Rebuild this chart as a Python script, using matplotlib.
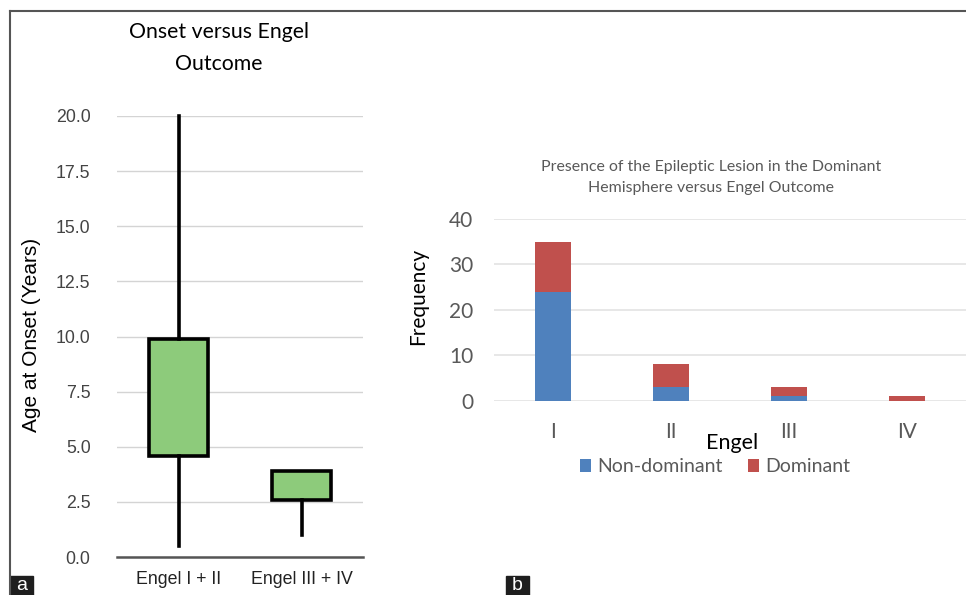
import numpy as np
import matplotlib
matplotlib.use("Agg")
import matplotlib.pyplot as plt
from matplotlib.patches import Rectangle
from matplotlib.lines import Line2D

# panel a: box plot of age at onset
groups = ['Engel I + II', 'Engel III + IV']
whis_lo = [0.5, 1.0]
q1 = [4.6, 2.6]
q3 = [9.9, 3.9]
whis_hi = [20.0, 3.9]
y_ticks_a = [0.0, 2.5, 5.0, 7.5, 10.0, 12.5, 15.0, 17.5, 20.0]

# panel b: stacked bars
engel = ['I', 'II', 'III', 'IV']
non_dominant = [24, 3, 1, 0]
dominant = [11, 5, 2, 1]
y_ticks_b = [0, 10, 20, 30, 40]

W, H = 966, 595
fig = plt.figure(figsize=(W / 100, H / 100), dpi=100)

def ax_at(x0, y0, x1, y1):
    # pixel box -> figure fraction
    return fig.add_axes([x0 / W, 1 - y1 / H, (x1 - x0) / W, (y1 - y0) / H])

calibri = ['Lato', 'DejaVu Sans']
arial = ['Liberation Sans', 'DejaVu Sans']

# ---- panel a ----
ax = ax_at(117, 116, 363, 557)
stats = []
for i in range(len(groups)):
    stats.append(dict(whislo=whis_lo[i], q1=q1[i], med=q1[i], q3=q3[i],
                      whishi=whis_hi[i], fliers=[], label=groups[i]))
ax.bxp(stats, positions=[1, 2], widths=0.48, showcaps=False, showfliers=False,
       patch_artist=True,
       boxprops=dict(facecolor='#8dcb7b', edgecolor='black', linewidth=2.6),
       whiskerprops=dict(color='black', linewidth=2.6),
       medianprops=dict(linewidth=0))
for art in ax.lines + ax.patches:
    art.set_clip_on(False)
ax.set_xlim(0.5, 2.5)
ax.set_ylim(0, 20)
ax.set_yticks(y_ticks_a)
ax.set_yticklabels(['%.1f' % v for v in y_ticks_a], fontsize=12.8, color='#444444',
                   family=arial)
ax.set_xticks([1, 2])
ax.set_xticklabels(groups, fontsize=12.8, color='#222222', family=arial)
ax.tick_params(length=0, pad=19)
ax.tick_params(axis='x', pad=10)
for s in ['top', 'right', 'left']:
    ax.spines[s].set_visible(False)
ax.spines['bottom'].set_color('#555555')
ax.spines['bottom'].set_linewidth(1.8)
ax.grid(axis='y', color='#d4d4d4', linewidth=1)
ax.set_axisbelow(True)
fig.text(32 / W, 1 - 335 / H, 'Age at Onset (Years)', rotation=90, ha='center',
         va='center', fontsize=15, family=arial)
fig.text(219 / W, 1 - 32 / H, 'Onset versus Engel', ha='center', va='center',
         fontsize=15.3, family=calibri)
fig.text(219 / W, 1 - 64 / H, 'Outcome', ha='center', va='center',
         fontsize=15.3, family=calibri)

# ---- panel b ----
bx = ax_at(494, 219, 966, 400.7)
x = np.arange(len(engel))
bx.bar(x, non_dominant, width=0.31, color='#4f81bd', label='Non-dominant', zorder=3)
bx.bar(x, dominant, width=0.31, bottom=non_dominant, color='#c0504d',
       label='Dominant', zorder=3)
bx.set_xlim(-0.5, 3.5)
bx.set_ylim(0, 40)
bx.set_yticks(y_ticks_b)
bx.set_yticklabels([str(v) for v in y_ticks_b], fontsize=15, color='#595959',
                   family=calibri)
bx.set_xticks(x)
bx.set_xticklabels(engel, fontsize=15, color='#595959', family=calibri)
bx.tick_params(length=0)
bx.tick_params(axis='y', pad=15)
bx.tick_params(axis='x', pad=15)
for s in bx.spines.values():
    s.set_visible(False)
bx.grid(axis='y', color='#e3e3e3', linewidth=1.2)
bx.set_axisbelow(True)
fig.text(418 / W, 1 - 296 / H, 'Frequency', rotation=90, ha='center', va='center',
         fontsize=15, family=calibri)
fig.text(732 / W, 1 - 443 / H, 'Engel', ha='center', va='center',
         fontsize=15.5, family=calibri)
fig.text(711 / W, 1 - 167 / H,
         'Presence of the Epileptic Lesion in the Dominant', ha='center',
         va='center', fontsize=11.4, color='#595959', family=calibri)
fig.text(711 / W, 1 - 188 / H, 'Hemisphere versus Engel Outcome', ha='center',
         va='center', fontsize=11.4, color='#595959', family=calibri)
leg = bx.legend(loc='center', bbox_to_anchor=(715 / W, 1 - 467 / H),
                bbox_transform=fig.transFigure, ncol=2, frameon=False,
                handlelength=0.6, handleheight=0.6,
                handletextpad=0.3, columnspacing=1.3,
                prop={'family': calibri, 'size': 14})
for t in leg.get_texts():
    t.set_color('#595959')

# frame and panel letters
fig.add_artist(Line2D([10 / W, 1], [1 - 11 / H, 1 - 11 / H], color='#555555',
                      linewidth=1.5))
fig.add_artist(Line2D([10 / W, 10 / W], [0, 1 - 11 / H], color='#555555',
                      linewidth=1.5))
for lx, letter in [(10, 'a'), (506, 'b')]:
    fig.add_artist(Rectangle((lx / W, 0), 23 / W, 19 / H, color='#1e1e1e',
                             transform=fig.transFigure))
    fig.text((lx + 11.5) / W, 9 / H, letter, ha='center', va='center',
             color='white', fontsize=14, family=arial)

fig.savefig('out.png', dpi=100)
